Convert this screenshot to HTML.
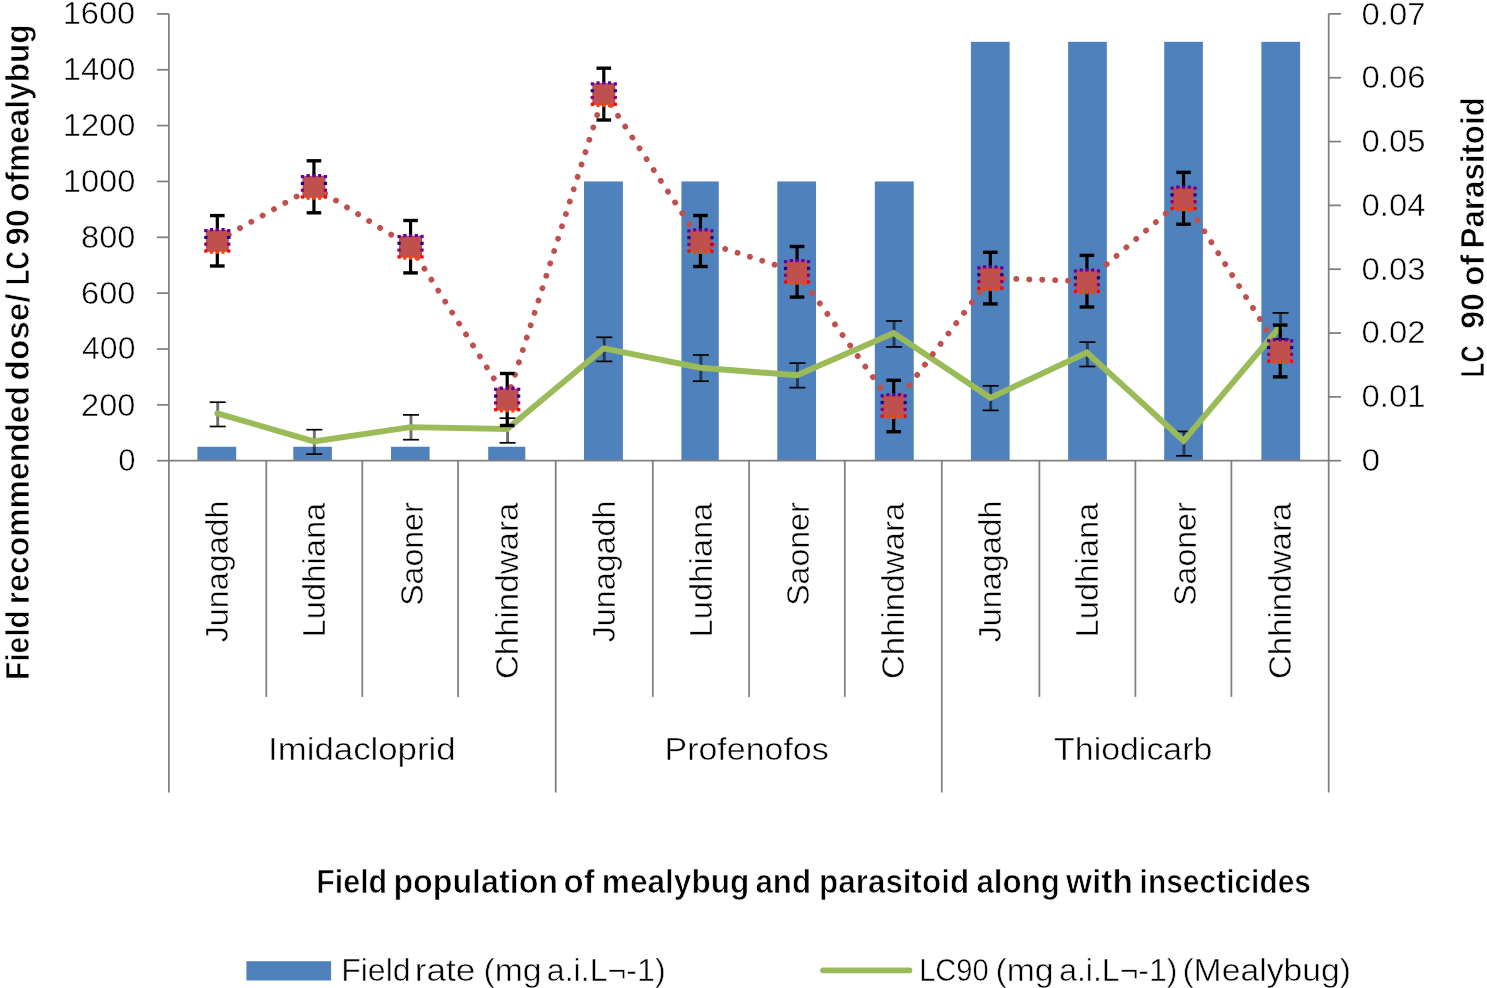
<!DOCTYPE html><html><head><meta charset="utf-8"><title>Chart</title>
<style>html,body{margin:0;padding:0;background:#fff;}svg{display:block;will-change:transform;}text{font-family:"Liberation Sans",sans-serif;fill:#000;}</style></head><body>
<svg width="1487" height="988" viewBox="0 0 1487 988">
<rect x="0" y="0" width="1487" height="988" fill="#fff"/>
<rect x="197.40" y="446.74" width="38.80" height="13.96" fill="#4F81BD"/>
<rect x="293.30" y="446.74" width="38.60" height="13.96" fill="#4F81BD"/>
<rect x="391.00" y="446.74" width="38.60" height="13.96" fill="#4F81BD"/>
<rect x="488.20" y="446.74" width="37.10" height="13.96" fill="#4F81BD"/>
<rect x="584.00" y="181.45" width="38.90" height="279.25" fill="#4F81BD"/>
<rect x="681.40" y="181.45" width="37.35" height="279.25" fill="#4F81BD"/>
<rect x="777.30" y="181.45" width="38.75" height="279.25" fill="#4F81BD"/>
<rect x="874.80" y="181.45" width="38.95" height="279.25" fill="#4F81BD"/>
<rect x="970.90" y="41.82" width="38.70" height="418.88" fill="#4F81BD"/>
<rect x="1068.10" y="41.82" width="38.75" height="418.88" fill="#4F81BD"/>
<rect x="1164.20" y="41.82" width="38.70" height="418.88" fill="#4F81BD"/>
<rect x="1261.40" y="41.82" width="38.70" height="418.88" fill="#4F81BD"/>
<g stroke="#7f7f7f" stroke-width="1.75" fill="none">
<line x1="168.9" y1="13.9" x2="168.9" y2="792.5"/>
<line x1="157" y1="460.70" x2="169.0" y2="460.70"/>
<line x1="157" y1="404.85" x2="169.0" y2="404.85"/>
<line x1="157" y1="349.00" x2="169.0" y2="349.00"/>
<line x1="157" y1="293.15" x2="169.0" y2="293.15"/>
<line x1="157" y1="237.30" x2="169.0" y2="237.30"/>
<line x1="157" y1="181.45" x2="169.0" y2="181.45"/>
<line x1="157" y1="125.60" x2="169.0" y2="125.60"/>
<line x1="157" y1="69.75" x2="169.0" y2="69.75"/>
<line x1="157" y1="13.90" x2="169.0" y2="13.90"/>
<line x1="1328.7" y1="13.9" x2="1328.7" y2="792.5"/>
<line x1="1328.5" y1="460.70" x2="1341" y2="460.70"/>
<line x1="1328.5" y1="396.87" x2="1341" y2="396.87"/>
<line x1="1328.5" y1="333.04" x2="1341" y2="333.04"/>
<line x1="1328.5" y1="269.21" x2="1341" y2="269.21"/>
<line x1="1328.5" y1="205.39" x2="1341" y2="205.39"/>
<line x1="1328.5" y1="141.56" x2="1341" y2="141.56"/>
<line x1="1328.5" y1="77.73" x2="1341" y2="77.73"/>
<line x1="1328.5" y1="13.90" x2="1341" y2="13.90"/>
<line x1="169.0" y1="460.7" x2="1328.5" y2="460.7"/>
<line x1="266.30" y1="460.7" x2="266.30" y2="696.9"/>
<line x1="362.30" y1="460.7" x2="362.30" y2="696.9"/>
<line x1="458.05" y1="460.7" x2="458.05" y2="696.9"/>
<line x1="555.70" y1="460.7" x2="555.70" y2="792.5"/>
<line x1="652.80" y1="460.7" x2="652.80" y2="696.9"/>
<line x1="749.10" y1="460.7" x2="749.10" y2="696.9"/>
<line x1="844.80" y1="460.7" x2="844.80" y2="696.9"/>
<line x1="941.80" y1="460.7" x2="941.80" y2="792.5"/>
<line x1="1039.40" y1="460.7" x2="1039.40" y2="696.9"/>
<line x1="1135.40" y1="460.7" x2="1135.40" y2="696.9"/>
<line x1="1231.40" y1="460.7" x2="1231.40" y2="696.9"/>
</g>
<line x1="217.71" y1="402.20" x2="217.71" y2="426.50" stroke="#000" stroke-opacity="0.56" stroke-width="2.9"/>
<line x1="209.71" y1="402.20" x2="225.71" y2="402.20" stroke="#000" stroke-width="1.7"/>
<line x1="209.71" y1="426.50" x2="225.71" y2="426.50" stroke="#000" stroke-width="1.7"/>
<line x1="314.34" y1="429.70" x2="314.34" y2="454.10" stroke="#000" stroke-opacity="0.56" stroke-width="2.9"/>
<line x1="306.34" y1="429.70" x2="322.34" y2="429.70" stroke="#000" stroke-width="1.7"/>
<line x1="306.34" y1="454.10" x2="322.34" y2="454.10" stroke="#000" stroke-width="1.7"/>
<line x1="410.96" y1="414.90" x2="410.96" y2="439.70" stroke="#000" stroke-opacity="0.56" stroke-width="2.9"/>
<line x1="402.96" y1="414.90" x2="418.96" y2="414.90" stroke="#000" stroke-width="1.7"/>
<line x1="402.96" y1="439.70" x2="418.96" y2="439.70" stroke="#000" stroke-width="1.7"/>
<line x1="507.59" y1="418.20" x2="507.59" y2="442.80" stroke="#000" stroke-opacity="0.56" stroke-width="2.9"/>
<line x1="499.59" y1="418.20" x2="515.59" y2="418.20" stroke="#000" stroke-width="1.7"/>
<line x1="499.59" y1="442.80" x2="515.59" y2="442.80" stroke="#000" stroke-width="1.7"/>
<line x1="604.21" y1="337.30" x2="604.21" y2="361.40" stroke="#000" stroke-opacity="0.56" stroke-width="2.9"/>
<line x1="596.21" y1="337.30" x2="612.21" y2="337.30" stroke="#000" stroke-width="1.7"/>
<line x1="596.21" y1="361.40" x2="612.21" y2="361.40" stroke="#000" stroke-width="1.7"/>
<line x1="700.84" y1="355.00" x2="700.84" y2="381.20" stroke="#000" stroke-opacity="0.56" stroke-width="2.9"/>
<line x1="692.84" y1="355.00" x2="708.84" y2="355.00" stroke="#000" stroke-width="1.7"/>
<line x1="692.84" y1="381.20" x2="708.84" y2="381.20" stroke="#000" stroke-width="1.7"/>
<line x1="797.46" y1="363.15" x2="797.46" y2="387.65" stroke="#000" stroke-opacity="0.56" stroke-width="2.9"/>
<line x1="789.46" y1="363.15" x2="805.46" y2="363.15" stroke="#000" stroke-width="1.7"/>
<line x1="789.46" y1="387.65" x2="805.46" y2="387.65" stroke="#000" stroke-width="1.7"/>
<line x1="894.09" y1="320.95" x2="894.09" y2="346.95" stroke="#000" stroke-opacity="0.56" stroke-width="2.9"/>
<line x1="886.09" y1="320.95" x2="902.09" y2="320.95" stroke="#000" stroke-width="1.7"/>
<line x1="886.09" y1="346.95" x2="902.09" y2="346.95" stroke="#000" stroke-width="1.7"/>
<line x1="990.71" y1="385.80" x2="990.71" y2="410.40" stroke="#000" stroke-opacity="0.56" stroke-width="2.9"/>
<line x1="982.71" y1="385.80" x2="998.71" y2="385.80" stroke="#000" stroke-width="1.7"/>
<line x1="982.71" y1="410.40" x2="998.71" y2="410.40" stroke="#000" stroke-width="1.7"/>
<line x1="1087.34" y1="342.10" x2="1087.34" y2="366.50" stroke="#000" stroke-opacity="0.56" stroke-width="2.9"/>
<line x1="1079.34" y1="342.10" x2="1095.34" y2="342.10" stroke="#000" stroke-width="1.7"/>
<line x1="1079.34" y1="366.50" x2="1095.34" y2="366.50" stroke="#000" stroke-width="1.7"/>
<line x1="1183.96" y1="431.45" x2="1183.96" y2="455.85" stroke="#000" stroke-opacity="0.56" stroke-width="2.9"/>
<line x1="1175.96" y1="431.45" x2="1191.96" y2="431.45" stroke="#000" stroke-width="1.7"/>
<line x1="1175.96" y1="455.85" x2="1191.96" y2="455.85" stroke="#000" stroke-width="1.7"/>
<line x1="1280.59" y1="312.90" x2="1280.59" y2="339.10" stroke="#000" stroke-opacity="0.56" stroke-width="2.9"/>
<line x1="1272.59" y1="312.90" x2="1288.59" y2="312.90" stroke="#000" stroke-width="1.7"/>
<line x1="1272.59" y1="339.10" x2="1288.59" y2="339.10" stroke="#000" stroke-width="1.7"/>
<polyline points="217.31,413.30 313.94,441.40 410.56,427.10 507.19,429.00 603.81,348.30 700.44,367.70 797.06,375.30 893.69,333.00 990.31,397.80 1086.94,352.50 1183.56,440.80 1280.19,326.50" fill="none" stroke="#9BBB59" stroke-width="5.9" stroke-linejoin="miter" stroke-miterlimit="10" stroke-linecap="round"/>
<g stroke="#C0504D" stroke-width="5.8" stroke-dasharray="0.1 12.87" stroke-linecap="round">
<line x1="217.31" y1="240.80" x2="313.94" y2="186.80"/>
<line x1="313.94" y1="186.80" x2="410.56" y2="246.70"/>
<line x1="410.56" y1="246.70" x2="507.19" y2="399.50"/>
<line x1="507.19" y1="399.50" x2="603.81" y2="94.10"/>
<line x1="603.81" y1="94.10" x2="700.44" y2="241.00"/>
<line x1="700.44" y1="241.00" x2="797.06" y2="271.80"/>
<line x1="797.06" y1="271.80" x2="893.69" y2="406.00"/>
<line x1="893.69" y1="406.00" x2="990.31" y2="278.10"/>
<line x1="990.31" y1="278.10" x2="1086.94" y2="281.20"/>
<line x1="1086.94" y1="281.20" x2="1183.56" y2="198.30"/>
<line x1="1183.56" y1="198.30" x2="1280.19" y2="351.00"/>
</g>
<line x1="217.31" y1="215.60" x2="217.31" y2="266.00" stroke="#000" stroke-width="3.2"/>
<line x1="210.01" y1="215.60" x2="224.61" y2="215.60" stroke="#000" stroke-width="3.4"/>
<line x1="210.01" y1="266.00" x2="224.61" y2="266.00" stroke="#000" stroke-width="3.4"/>
<line x1="313.94" y1="160.80" x2="313.94" y2="212.80" stroke="#000" stroke-width="3.2"/>
<line x1="306.64" y1="160.80" x2="321.24" y2="160.80" stroke="#000" stroke-width="3.4"/>
<line x1="306.64" y1="212.80" x2="321.24" y2="212.80" stroke="#000" stroke-width="3.4"/>
<line x1="410.56" y1="220.50" x2="410.56" y2="272.90" stroke="#000" stroke-width="3.2"/>
<line x1="403.26" y1="220.50" x2="417.86" y2="220.50" stroke="#000" stroke-width="3.4"/>
<line x1="403.26" y1="272.90" x2="417.86" y2="272.90" stroke="#000" stroke-width="3.4"/>
<line x1="507.19" y1="373.50" x2="507.19" y2="425.50" stroke="#000" stroke-width="3.2"/>
<line x1="499.89" y1="373.50" x2="514.49" y2="373.50" stroke="#000" stroke-width="3.4"/>
<line x1="499.89" y1="425.50" x2="514.49" y2="425.50" stroke="#000" stroke-width="3.4"/>
<line x1="603.81" y1="68.20" x2="603.81" y2="120.00" stroke="#000" stroke-width="3.2"/>
<line x1="596.51" y1="68.20" x2="611.11" y2="68.20" stroke="#000" stroke-width="3.4"/>
<line x1="596.51" y1="120.00" x2="611.11" y2="120.00" stroke="#000" stroke-width="3.4"/>
<line x1="700.44" y1="215.50" x2="700.44" y2="266.50" stroke="#000" stroke-width="3.2"/>
<line x1="693.14" y1="215.50" x2="707.74" y2="215.50" stroke="#000" stroke-width="3.4"/>
<line x1="693.14" y1="266.50" x2="707.74" y2="266.50" stroke="#000" stroke-width="3.4"/>
<line x1="797.06" y1="246.50" x2="797.06" y2="297.10" stroke="#000" stroke-width="3.2"/>
<line x1="789.76" y1="246.50" x2="804.36" y2="246.50" stroke="#000" stroke-width="3.4"/>
<line x1="789.76" y1="297.10" x2="804.36" y2="297.10" stroke="#000" stroke-width="3.4"/>
<line x1="893.69" y1="380.30" x2="893.69" y2="431.70" stroke="#000" stroke-width="3.2"/>
<line x1="886.39" y1="380.30" x2="900.99" y2="380.30" stroke="#000" stroke-width="3.4"/>
<line x1="886.39" y1="431.70" x2="900.99" y2="431.70" stroke="#000" stroke-width="3.4"/>
<line x1="990.31" y1="252.30" x2="990.31" y2="303.90" stroke="#000" stroke-width="3.2"/>
<line x1="983.01" y1="252.30" x2="997.61" y2="252.30" stroke="#000" stroke-width="3.4"/>
<line x1="983.01" y1="303.90" x2="997.61" y2="303.90" stroke="#000" stroke-width="3.4"/>
<line x1="1086.94" y1="255.40" x2="1086.94" y2="307.00" stroke="#000" stroke-width="3.2"/>
<line x1="1079.64" y1="255.40" x2="1094.24" y2="255.40" stroke="#000" stroke-width="3.4"/>
<line x1="1079.64" y1="307.00" x2="1094.24" y2="307.00" stroke="#000" stroke-width="3.4"/>
<line x1="1183.56" y1="172.40" x2="1183.56" y2="224.20" stroke="#000" stroke-width="3.2"/>
<line x1="1176.26" y1="172.40" x2="1190.86" y2="172.40" stroke="#000" stroke-width="3.4"/>
<line x1="1176.26" y1="224.20" x2="1190.86" y2="224.20" stroke="#000" stroke-width="3.4"/>
<line x1="1280.19" y1="325.10" x2="1280.19" y2="376.90" stroke="#000" stroke-width="3.2"/>
<line x1="1272.89" y1="325.10" x2="1287.49" y2="325.10" stroke="#000" stroke-width="3.4"/>
<line x1="1272.89" y1="376.90" x2="1287.49" y2="376.90" stroke="#000" stroke-width="3.4"/>
<rect x="205.81" y="229.80" width="23" height="22" fill="#C0504D"/>
<rect x="204.21" y="229.00" width="3.2" height="3.2" fill="#6000a0"/>
<rect x="204.21" y="235.80" width="3.2" height="3.2" fill="#16008c"/>
<rect x="204.21" y="242.60" width="3.2" height="3.2" fill="#8c0070"/>
<rect x="204.21" y="249.40" width="3.2" height="3.2" fill="#ff0000"/>
<rect x="227.21" y="229.00" width="3.2" height="3.2" fill="#6000a0"/>
<rect x="227.21" y="235.80" width="3.2" height="3.2" fill="#16008c"/>
<rect x="227.21" y="242.60" width="3.2" height="3.2" fill="#8c0070"/>
<rect x="227.21" y="249.40" width="3.2" height="3.2" fill="#ff0000"/>
<rect x="209.96" y="228.00" width="3.2" height="3.2" fill="#6000a0"/>
<rect x="209.96" y="250.60" width="3.2" height="3.2" fill="#ff4000"/>
<rect x="215.71" y="228.00" width="3.2" height="3.2" fill="#6000a0"/>
<rect x="215.71" y="250.60" width="3.2" height="3.2" fill="#ff4000"/>
<rect x="221.46" y="228.00" width="3.2" height="3.2" fill="#6000a0"/>
<rect x="221.46" y="250.60" width="3.2" height="3.2" fill="#ff4000"/>
<rect x="302.44" y="175.80" width="23" height="22" fill="#C0504D"/>
<rect x="300.84" y="175.00" width="3.2" height="3.2" fill="#6000a0"/>
<rect x="300.84" y="181.80" width="3.2" height="3.2" fill="#16008c"/>
<rect x="300.84" y="188.60" width="3.2" height="3.2" fill="#8c0070"/>
<rect x="300.84" y="195.40" width="3.2" height="3.2" fill="#ff0000"/>
<rect x="323.84" y="175.00" width="3.2" height="3.2" fill="#6000a0"/>
<rect x="323.84" y="181.80" width="3.2" height="3.2" fill="#16008c"/>
<rect x="323.84" y="188.60" width="3.2" height="3.2" fill="#8c0070"/>
<rect x="323.84" y="195.40" width="3.2" height="3.2" fill="#ff0000"/>
<rect x="306.59" y="174.00" width="3.2" height="3.2" fill="#6000a0"/>
<rect x="306.59" y="196.60" width="3.2" height="3.2" fill="#ff4000"/>
<rect x="312.34" y="174.00" width="3.2" height="3.2" fill="#6000a0"/>
<rect x="312.34" y="196.60" width="3.2" height="3.2" fill="#ff4000"/>
<rect x="318.09" y="174.00" width="3.2" height="3.2" fill="#6000a0"/>
<rect x="318.09" y="196.60" width="3.2" height="3.2" fill="#ff4000"/>
<rect x="399.06" y="235.70" width="23" height="22" fill="#C0504D"/>
<rect x="397.46" y="234.90" width="3.2" height="3.2" fill="#6000a0"/>
<rect x="397.46" y="241.70" width="3.2" height="3.2" fill="#16008c"/>
<rect x="397.46" y="248.50" width="3.2" height="3.2" fill="#8c0070"/>
<rect x="397.46" y="255.30" width="3.2" height="3.2" fill="#ff0000"/>
<rect x="420.46" y="234.90" width="3.2" height="3.2" fill="#6000a0"/>
<rect x="420.46" y="241.70" width="3.2" height="3.2" fill="#16008c"/>
<rect x="420.46" y="248.50" width="3.2" height="3.2" fill="#8c0070"/>
<rect x="420.46" y="255.30" width="3.2" height="3.2" fill="#ff0000"/>
<rect x="403.21" y="233.90" width="3.2" height="3.2" fill="#6000a0"/>
<rect x="403.21" y="256.50" width="3.2" height="3.2" fill="#ff4000"/>
<rect x="408.96" y="233.90" width="3.2" height="3.2" fill="#6000a0"/>
<rect x="408.96" y="256.50" width="3.2" height="3.2" fill="#ff4000"/>
<rect x="414.71" y="233.90" width="3.2" height="3.2" fill="#6000a0"/>
<rect x="414.71" y="256.50" width="3.2" height="3.2" fill="#ff4000"/>
<rect x="495.69" y="388.50" width="23" height="22" fill="#C0504D"/>
<rect x="494.09" y="387.70" width="3.2" height="3.2" fill="#6000a0"/>
<rect x="494.09" y="394.50" width="3.2" height="3.2" fill="#16008c"/>
<rect x="494.09" y="401.30" width="3.2" height="3.2" fill="#8c0070"/>
<rect x="494.09" y="408.10" width="3.2" height="3.2" fill="#ff0000"/>
<rect x="517.09" y="387.70" width="3.2" height="3.2" fill="#6000a0"/>
<rect x="517.09" y="394.50" width="3.2" height="3.2" fill="#16008c"/>
<rect x="517.09" y="401.30" width="3.2" height="3.2" fill="#8c0070"/>
<rect x="517.09" y="408.10" width="3.2" height="3.2" fill="#ff0000"/>
<rect x="499.84" y="386.70" width="3.2" height="3.2" fill="#6000a0"/>
<rect x="499.84" y="409.30" width="3.2" height="3.2" fill="#ff4000"/>
<rect x="505.59" y="386.70" width="3.2" height="3.2" fill="#6000a0"/>
<rect x="505.59" y="409.30" width="3.2" height="3.2" fill="#ff4000"/>
<rect x="511.34" y="386.70" width="3.2" height="3.2" fill="#6000a0"/>
<rect x="511.34" y="409.30" width="3.2" height="3.2" fill="#ff4000"/>
<rect x="592.31" y="83.10" width="23" height="22" fill="#C0504D"/>
<rect x="590.71" y="82.30" width="3.2" height="3.2" fill="#6000a0"/>
<rect x="590.71" y="89.10" width="3.2" height="3.2" fill="#16008c"/>
<rect x="590.71" y="95.90" width="3.2" height="3.2" fill="#8c0070"/>
<rect x="590.71" y="102.70" width="3.2" height="3.2" fill="#ff0000"/>
<rect x="613.71" y="82.30" width="3.2" height="3.2" fill="#6000a0"/>
<rect x="613.71" y="89.10" width="3.2" height="3.2" fill="#16008c"/>
<rect x="613.71" y="95.90" width="3.2" height="3.2" fill="#8c0070"/>
<rect x="613.71" y="102.70" width="3.2" height="3.2" fill="#ff0000"/>
<rect x="596.46" y="81.30" width="3.2" height="3.2" fill="#6000a0"/>
<rect x="596.46" y="103.90" width="3.2" height="3.2" fill="#ff4000"/>
<rect x="602.21" y="81.30" width="3.2" height="3.2" fill="#6000a0"/>
<rect x="602.21" y="103.90" width="3.2" height="3.2" fill="#ff4000"/>
<rect x="607.96" y="81.30" width="3.2" height="3.2" fill="#6000a0"/>
<rect x="607.96" y="103.90" width="3.2" height="3.2" fill="#ff4000"/>
<rect x="688.94" y="230.00" width="23" height="22" fill="#C0504D"/>
<rect x="687.34" y="229.20" width="3.2" height="3.2" fill="#6000a0"/>
<rect x="687.34" y="236.00" width="3.2" height="3.2" fill="#16008c"/>
<rect x="687.34" y="242.80" width="3.2" height="3.2" fill="#8c0070"/>
<rect x="687.34" y="249.60" width="3.2" height="3.2" fill="#ff0000"/>
<rect x="710.34" y="229.20" width="3.2" height="3.2" fill="#6000a0"/>
<rect x="710.34" y="236.00" width="3.2" height="3.2" fill="#16008c"/>
<rect x="710.34" y="242.80" width="3.2" height="3.2" fill="#8c0070"/>
<rect x="710.34" y="249.60" width="3.2" height="3.2" fill="#ff0000"/>
<rect x="693.09" y="228.20" width="3.2" height="3.2" fill="#6000a0"/>
<rect x="693.09" y="250.80" width="3.2" height="3.2" fill="#ff4000"/>
<rect x="698.84" y="228.20" width="3.2" height="3.2" fill="#6000a0"/>
<rect x="698.84" y="250.80" width="3.2" height="3.2" fill="#ff4000"/>
<rect x="704.59" y="228.20" width="3.2" height="3.2" fill="#6000a0"/>
<rect x="704.59" y="250.80" width="3.2" height="3.2" fill="#ff4000"/>
<rect x="785.56" y="260.80" width="23" height="22" fill="#C0504D"/>
<rect x="783.96" y="260.00" width="3.2" height="3.2" fill="#6000a0"/>
<rect x="783.96" y="266.80" width="3.2" height="3.2" fill="#16008c"/>
<rect x="783.96" y="273.60" width="3.2" height="3.2" fill="#8c0070"/>
<rect x="783.96" y="280.40" width="3.2" height="3.2" fill="#ff0000"/>
<rect x="806.96" y="260.00" width="3.2" height="3.2" fill="#6000a0"/>
<rect x="806.96" y="266.80" width="3.2" height="3.2" fill="#16008c"/>
<rect x="806.96" y="273.60" width="3.2" height="3.2" fill="#8c0070"/>
<rect x="806.96" y="280.40" width="3.2" height="3.2" fill="#ff0000"/>
<rect x="789.71" y="259.00" width="3.2" height="3.2" fill="#6000a0"/>
<rect x="789.71" y="281.60" width="3.2" height="3.2" fill="#ff4000"/>
<rect x="795.46" y="259.00" width="3.2" height="3.2" fill="#6000a0"/>
<rect x="795.46" y="281.60" width="3.2" height="3.2" fill="#ff4000"/>
<rect x="801.21" y="259.00" width="3.2" height="3.2" fill="#6000a0"/>
<rect x="801.21" y="281.60" width="3.2" height="3.2" fill="#ff4000"/>
<rect x="882.19" y="395.00" width="23" height="22" fill="#C0504D"/>
<rect x="880.59" y="394.20" width="3.2" height="3.2" fill="#6000a0"/>
<rect x="880.59" y="401.00" width="3.2" height="3.2" fill="#16008c"/>
<rect x="880.59" y="407.80" width="3.2" height="3.2" fill="#8c0070"/>
<rect x="880.59" y="414.60" width="3.2" height="3.2" fill="#ff0000"/>
<rect x="903.59" y="394.20" width="3.2" height="3.2" fill="#6000a0"/>
<rect x="903.59" y="401.00" width="3.2" height="3.2" fill="#16008c"/>
<rect x="903.59" y="407.80" width="3.2" height="3.2" fill="#8c0070"/>
<rect x="903.59" y="414.60" width="3.2" height="3.2" fill="#ff0000"/>
<rect x="886.34" y="393.20" width="3.2" height="3.2" fill="#6000a0"/>
<rect x="886.34" y="415.80" width="3.2" height="3.2" fill="#ff4000"/>
<rect x="892.09" y="393.20" width="3.2" height="3.2" fill="#6000a0"/>
<rect x="892.09" y="415.80" width="3.2" height="3.2" fill="#ff4000"/>
<rect x="897.84" y="393.20" width="3.2" height="3.2" fill="#6000a0"/>
<rect x="897.84" y="415.80" width="3.2" height="3.2" fill="#ff4000"/>
<rect x="978.81" y="267.10" width="23" height="22" fill="#C0504D"/>
<rect x="977.21" y="266.30" width="3.2" height="3.2" fill="#6000a0"/>
<rect x="977.21" y="273.10" width="3.2" height="3.2" fill="#16008c"/>
<rect x="977.21" y="279.90" width="3.2" height="3.2" fill="#8c0070"/>
<rect x="977.21" y="286.70" width="3.2" height="3.2" fill="#ff0000"/>
<rect x="1000.21" y="266.30" width="3.2" height="3.2" fill="#6000a0"/>
<rect x="1000.21" y="273.10" width="3.2" height="3.2" fill="#16008c"/>
<rect x="1000.21" y="279.90" width="3.2" height="3.2" fill="#8c0070"/>
<rect x="1000.21" y="286.70" width="3.2" height="3.2" fill="#ff0000"/>
<rect x="982.96" y="265.30" width="3.2" height="3.2" fill="#6000a0"/>
<rect x="982.96" y="287.90" width="3.2" height="3.2" fill="#ff4000"/>
<rect x="988.71" y="265.30" width="3.2" height="3.2" fill="#6000a0"/>
<rect x="988.71" y="287.90" width="3.2" height="3.2" fill="#ff4000"/>
<rect x="994.46" y="265.30" width="3.2" height="3.2" fill="#6000a0"/>
<rect x="994.46" y="287.90" width="3.2" height="3.2" fill="#ff4000"/>
<rect x="1075.44" y="270.20" width="23" height="22" fill="#C0504D"/>
<rect x="1073.84" y="269.40" width="3.2" height="3.2" fill="#6000a0"/>
<rect x="1073.84" y="276.20" width="3.2" height="3.2" fill="#16008c"/>
<rect x="1073.84" y="283.00" width="3.2" height="3.2" fill="#8c0070"/>
<rect x="1073.84" y="289.80" width="3.2" height="3.2" fill="#ff0000"/>
<rect x="1096.84" y="269.40" width="3.2" height="3.2" fill="#6000a0"/>
<rect x="1096.84" y="276.20" width="3.2" height="3.2" fill="#16008c"/>
<rect x="1096.84" y="283.00" width="3.2" height="3.2" fill="#8c0070"/>
<rect x="1096.84" y="289.80" width="3.2" height="3.2" fill="#ff0000"/>
<rect x="1079.59" y="268.40" width="3.2" height="3.2" fill="#6000a0"/>
<rect x="1079.59" y="291.00" width="3.2" height="3.2" fill="#ff4000"/>
<rect x="1085.34" y="268.40" width="3.2" height="3.2" fill="#6000a0"/>
<rect x="1085.34" y="291.00" width="3.2" height="3.2" fill="#ff4000"/>
<rect x="1091.09" y="268.40" width="3.2" height="3.2" fill="#6000a0"/>
<rect x="1091.09" y="291.00" width="3.2" height="3.2" fill="#ff4000"/>
<rect x="1172.06" y="187.30" width="23" height="22" fill="#C0504D"/>
<rect x="1170.46" y="186.50" width="3.2" height="3.2" fill="#6000a0"/>
<rect x="1170.46" y="193.30" width="3.2" height="3.2" fill="#16008c"/>
<rect x="1170.46" y="200.10" width="3.2" height="3.2" fill="#8c0070"/>
<rect x="1170.46" y="206.90" width="3.2" height="3.2" fill="#ff0000"/>
<rect x="1193.46" y="186.50" width="3.2" height="3.2" fill="#6000a0"/>
<rect x="1193.46" y="193.30" width="3.2" height="3.2" fill="#16008c"/>
<rect x="1193.46" y="200.10" width="3.2" height="3.2" fill="#8c0070"/>
<rect x="1193.46" y="206.90" width="3.2" height="3.2" fill="#ff0000"/>
<rect x="1176.21" y="185.50" width="3.2" height="3.2" fill="#6000a0"/>
<rect x="1176.21" y="208.10" width="3.2" height="3.2" fill="#ff4000"/>
<rect x="1181.96" y="185.50" width="3.2" height="3.2" fill="#6000a0"/>
<rect x="1181.96" y="208.10" width="3.2" height="3.2" fill="#ff4000"/>
<rect x="1187.71" y="185.50" width="3.2" height="3.2" fill="#6000a0"/>
<rect x="1187.71" y="208.10" width="3.2" height="3.2" fill="#ff4000"/>
<rect x="1268.69" y="340.00" width="23" height="22" fill="#C0504D"/>
<rect x="1267.09" y="339.20" width="3.2" height="3.2" fill="#6000a0"/>
<rect x="1267.09" y="346.00" width="3.2" height="3.2" fill="#16008c"/>
<rect x="1267.09" y="352.80" width="3.2" height="3.2" fill="#8c0070"/>
<rect x="1267.09" y="359.60" width="3.2" height="3.2" fill="#ff0000"/>
<rect x="1290.09" y="339.20" width="3.2" height="3.2" fill="#6000a0"/>
<rect x="1290.09" y="346.00" width="3.2" height="3.2" fill="#16008c"/>
<rect x="1290.09" y="352.80" width="3.2" height="3.2" fill="#8c0070"/>
<rect x="1290.09" y="359.60" width="3.2" height="3.2" fill="#ff0000"/>
<rect x="1272.84" y="338.20" width="3.2" height="3.2" fill="#6000a0"/>
<rect x="1272.84" y="360.80" width="3.2" height="3.2" fill="#ff4000"/>
<rect x="1278.59" y="338.20" width="3.2" height="3.2" fill="#6000a0"/>
<rect x="1278.59" y="360.80" width="3.2" height="3.2" fill="#ff4000"/>
<rect x="1284.34" y="338.20" width="3.2" height="3.2" fill="#6000a0"/>
<rect x="1284.34" y="360.80" width="3.2" height="3.2" fill="#ff4000"/>
<rect x="246.4" y="961.2" width="84.7" height="19.3" fill="#4F81BD"/>
<line x1="823" y1="970.4" x2="909.5" y2="970.4" stroke="#9BBB59" stroke-width="5.6" stroke-linecap="round"/>
<text id="yl0" x="118.30" y="471.10" font-size="31" stroke="#fff" stroke-width="0.5" textLength="17.25" lengthAdjust="spacingAndGlyphs">0</text>
<text id="yl1" x="81.10" y="415.65" font-size="31" stroke="#fff" stroke-width="0.5" textLength="54.33" lengthAdjust="spacingAndGlyphs">200</text>
<text id="yl2" x="82.10" y="359.20" font-size="31" stroke="#fff" stroke-width="0.5" textLength="53.33" lengthAdjust="spacingAndGlyphs">400</text>
<text id="yl3" x="81.10" y="303.75" font-size="31" stroke="#fff" stroke-width="0.5" textLength="54.33" lengthAdjust="spacingAndGlyphs">600</text>
<text id="yl4" x="81.10" y="248.30" font-size="31" stroke="#fff" stroke-width="0.5" textLength="54.33" lengthAdjust="spacingAndGlyphs">800</text>
<text id="yl5" x="62.70" y="191.85" font-size="31" stroke="#fff" stroke-width="0.5" textLength="72.77" lengthAdjust="spacingAndGlyphs">1000</text>
<text id="yl6" x="62.70" y="136.40" font-size="31" stroke="#fff" stroke-width="0.5" textLength="72.77" lengthAdjust="spacingAndGlyphs">1200</text>
<text id="yl7" x="62.70" y="79.95" font-size="31" stroke="#fff" stroke-width="0.5" textLength="72.77" lengthAdjust="spacingAndGlyphs">1400</text>
<text id="yl8" x="62.70" y="24.10" font-size="31" stroke="#fff" stroke-width="0.5" textLength="72.57" lengthAdjust="spacingAndGlyphs">1600</text>
<text id="yr0" x="1361.60" y="471.20" font-size="31" stroke="#fff" stroke-width="0.5" textLength="18.65" lengthAdjust="spacingAndGlyphs">0</text>
<text id="yr1" x="1361.60" y="407.11" font-size="31" stroke="#fff" stroke-width="0.5" textLength="63.94" lengthAdjust="spacingAndGlyphs">0.01</text>
<text id="yr2" x="1361.60" y="343.03" font-size="31" stroke="#fff" stroke-width="0.5" textLength="63.94" lengthAdjust="spacingAndGlyphs">0.02</text>
<text id="yr3" x="1361.60" y="279.94" font-size="31" stroke="#fff" stroke-width="0.5" textLength="63.94" lengthAdjust="spacingAndGlyphs">0.03</text>
<text id="yr4" x="1361.60" y="215.86" font-size="31" stroke="#fff" stroke-width="0.5" textLength="63.94" lengthAdjust="spacingAndGlyphs">0.04</text>
<text id="yr5" x="1361.60" y="151.77" font-size="31" stroke="#fff" stroke-width="0.5" textLength="63.94" lengthAdjust="spacingAndGlyphs">0.05</text>
<text id="yr6" x="1361.60" y="87.69" font-size="31" stroke="#fff" stroke-width="0.5" textLength="63.94" lengthAdjust="spacingAndGlyphs">0.06</text>
<text id="yr7" x="1361.60" y="24.60" font-size="31" stroke="#fff" stroke-width="0.5" textLength="63.94" lengthAdjust="spacingAndGlyphs">0.07</text>
<text id="c0" transform="translate(228.41,642.30) rotate(-90)" x="0" y="0" font-size="32" stroke="#fff" stroke-width="0.5" textLength="141.78" lengthAdjust="spacingAndGlyphs">Junagadh</text>
<text id="c1" transform="translate(325.04,637.40) rotate(-90)" x="0" y="0" font-size="32" stroke="#fff" stroke-width="0.5" textLength="134.69" lengthAdjust="spacingAndGlyphs">Ludhiana</text>
<text id="c2" transform="translate(422.86,605.80) rotate(-90)" x="0" y="0" font-size="32" stroke="#fff" stroke-width="0.5" textLength="103.39" lengthAdjust="spacingAndGlyphs">Saoner</text>
<text id="c3" transform="translate(517.89,679.10) rotate(-90)" x="0" y="0" font-size="32" stroke="#fff" stroke-width="0.5" textLength="176.37" lengthAdjust="spacingAndGlyphs">Chhindwara</text>
<text id="c4" transform="translate(614.91,642.30) rotate(-90)" x="0" y="0" font-size="32" stroke="#fff" stroke-width="0.5" textLength="141.78" lengthAdjust="spacingAndGlyphs">Junagadh</text>
<text id="c5" transform="translate(711.54,637.40) rotate(-90)" x="0" y="0" font-size="32" stroke="#fff" stroke-width="0.5" textLength="134.69" lengthAdjust="spacingAndGlyphs">Ludhiana</text>
<text id="c6" transform="translate(809.36,605.80) rotate(-90)" x="0" y="0" font-size="32" stroke="#fff" stroke-width="0.5" textLength="103.39" lengthAdjust="spacingAndGlyphs">Saoner</text>
<text id="c7" transform="translate(904.39,679.10) rotate(-90)" x="0" y="0" font-size="32" stroke="#fff" stroke-width="0.5" textLength="176.37" lengthAdjust="spacingAndGlyphs">Chhindwara</text>
<text id="c8" transform="translate(1001.41,642.30) rotate(-90)" x="0" y="0" font-size="32" stroke="#fff" stroke-width="0.5" textLength="141.78" lengthAdjust="spacingAndGlyphs">Junagadh</text>
<text id="c9" transform="translate(1098.04,637.40) rotate(-90)" x="0" y="0" font-size="32" stroke="#fff" stroke-width="0.5" textLength="134.69" lengthAdjust="spacingAndGlyphs">Ludhiana</text>
<text id="c10" transform="translate(1195.86,605.80) rotate(-90)" x="0" y="0" font-size="32" stroke="#fff" stroke-width="0.5" textLength="103.39" lengthAdjust="spacingAndGlyphs">Saoner</text>
<text id="c11" transform="translate(1290.89,679.10) rotate(-90)" x="0" y="0" font-size="32" stroke="#fff" stroke-width="0.5" textLength="176.37" lengthAdjust="spacingAndGlyphs">Chhindwara</text>
<text id="g0" x="268.10" y="760.20" font-size="32" stroke="#fff" stroke-width="0.5" textLength="187.52" lengthAdjust="spacingAndGlyphs">Imidacloprid</text>
<text id="g1" x="664.50" y="760.20" font-size="32" stroke="#fff" stroke-width="0.5" textLength="164.17" lengthAdjust="spacingAndGlyphs">Profenofos</text>
<text id="g2" x="1054.10" y="760.20" font-size="32" stroke="#fff" stroke-width="0.5" textLength="158.21" lengthAdjust="spacingAndGlyphs">Thiodicarb</text>
<text id="xt0" x="316.20" y="892.80" font-size="33" font-weight="bold" stroke="#fff" stroke-width="0.7" textLength="71.02" lengthAdjust="spacingAndGlyphs">Field</text>
<text id="xt1" x="393.40" y="892.80" font-size="33" font-weight="bold" stroke="#fff" stroke-width="0.7" textLength="164.64" lengthAdjust="spacingAndGlyphs">population</text>
<text id="xt2" x="563.60" y="892.80" font-size="33" font-weight="bold" stroke="#fff" stroke-width="0.7" textLength="31.16" lengthAdjust="spacingAndGlyphs">of</text>
<text id="xt3" x="601.80" y="892.80" font-size="33" font-weight="bold" stroke="#fff" stroke-width="0.7" textLength="147.55" lengthAdjust="spacingAndGlyphs">mealybug</text>
<text id="xt4" x="755.40" y="892.80" font-size="33" font-weight="bold" stroke="#fff" stroke-width="0.7" textLength="55.67" lengthAdjust="spacingAndGlyphs">and</text>
<text id="xt5" x="819.00" y="892.80" font-size="33" font-weight="bold" stroke="#fff" stroke-width="0.7" textLength="150.20" lengthAdjust="spacingAndGlyphs">parasitoid</text>
<text id="xt6" x="976.40" y="892.80" font-size="33" font-weight="bold" stroke="#fff" stroke-width="0.7" textLength="83.50" lengthAdjust="spacingAndGlyphs">along</text>
<text id="xt7" x="1066.00" y="892.80" font-size="33" font-weight="bold" stroke="#fff" stroke-width="0.7" textLength="66.98" lengthAdjust="spacingAndGlyphs">with</text>
<text id="xt8" x="1139.60" y="892.80" font-size="33" font-weight="bold" stroke="#fff" stroke-width="0.7" textLength="171.44" lengthAdjust="spacingAndGlyphs">insecticides</text>
<text id="ylt0" transform="translate(28.50,680.00) rotate(-90)" x="0" y="0" font-size="32.5" font-weight="bold" stroke="#fff" stroke-width="0.7" textLength="69.84" lengthAdjust="spacingAndGlyphs">Field</text>
<text id="ylt1" transform="translate(28.50,604.20) rotate(-90)" x="0" y="0" font-size="32.5" font-weight="bold" stroke="#fff" stroke-width="0.7" textLength="218.16" lengthAdjust="spacingAndGlyphs">recommended</text>
<text id="ylt2" transform="translate(28.50,380.40) rotate(-90)" x="0" y="0" font-size="32.5" font-weight="bold" stroke="#fff" stroke-width="0.7" textLength="86.89" lengthAdjust="spacingAndGlyphs">dose/</text>
<text id="ylt3" transform="translate(28.50,285.00) rotate(-90)" x="0" y="0" font-size="32.5" font-weight="bold" stroke="#fff" stroke-width="0.7" textLength="33.83" lengthAdjust="spacingAndGlyphs">LC</text>
<text id="ylt4" transform="translate(28.50,245.60) rotate(-90)" x="0" y="0" font-size="32.5" font-weight="bold" stroke="#fff" stroke-width="0.7" textLength="36.66" lengthAdjust="spacingAndGlyphs">90</text>
<text id="ylt5" transform="translate(28.50,201.80) rotate(-90)" x="0" y="0" font-size="32.5" font-weight="bold" stroke="#fff" stroke-width="0.7" textLength="177.39" lengthAdjust="spacingAndGlyphs">ofmealybug</text>
<text id="yrt0" transform="translate(1484.00,377.20) rotate(-90)" x="0" y="0" font-size="32.5" font-weight="bold" stroke="#fff" stroke-width="0.7" textLength="31.83" lengthAdjust="spacingAndGlyphs">LC</text>
<text id="yrt1" transform="translate(1484.00,328.80) rotate(-90)" x="0" y="0" font-size="32.5" font-weight="bold" stroke="#fff" stroke-width="0.7" textLength="35.66" lengthAdjust="spacingAndGlyphs">90</text>
<text id="yrt2" transform="translate(1484.00,285.80) rotate(-90)" x="0" y="0" font-size="32.5" font-weight="bold" stroke="#fff" stroke-width="0.7" textLength="31.19" lengthAdjust="spacingAndGlyphs">of</text>
<text id="yrt3" transform="translate(1484.00,248.40) rotate(-90)" x="0" y="0" font-size="32.5" font-weight="bold" stroke="#fff" stroke-width="0.7" textLength="151.14" lengthAdjust="spacingAndGlyphs">Parasitoid</text>
<text id="lga0" x="341.20" y="980.50" font-size="32" stroke="#fff" stroke-width="0.5" textLength="69.36" lengthAdjust="spacingAndGlyphs">Field</text>
<text id="lga1" x="414.80" y="980.50" font-size="32" stroke="#fff" stroke-width="0.5" textLength="60.64" lengthAdjust="spacingAndGlyphs">rate</text>
<text id="lga2" x="483.40" y="980.50" font-size="32" stroke="#fff" stroke-width="0.5" textLength="58.11" lengthAdjust="spacingAndGlyphs">(mg</text>
<text id="lga3" x="546.80" y="980.50" font-size="32" stroke="#fff" stroke-width="0.5" textLength="118.78" lengthAdjust="spacingAndGlyphs">a.i.L¬-1)</text>
<text id="lgb0" x="919.20" y="980.50" font-size="32" stroke="#fff" stroke-width="0.5" textLength="69.50" lengthAdjust="spacingAndGlyphs">LC90</text>
<text id="lgb1" x="995.40" y="980.50" font-size="32" stroke="#fff" stroke-width="0.5" textLength="58.11" lengthAdjust="spacingAndGlyphs">(mg</text>
<text id="lgb2" x="1059.20" y="980.50" font-size="32" stroke="#fff" stroke-width="0.5" textLength="118.28" lengthAdjust="spacingAndGlyphs">a.i.L¬-1)</text>
<text id="lgb3" x="1182.40" y="980.50" font-size="32" stroke="#fff" stroke-width="0.5" textLength="168.56" lengthAdjust="spacingAndGlyphs">(Mealybug)</text>
</svg></body></html>
